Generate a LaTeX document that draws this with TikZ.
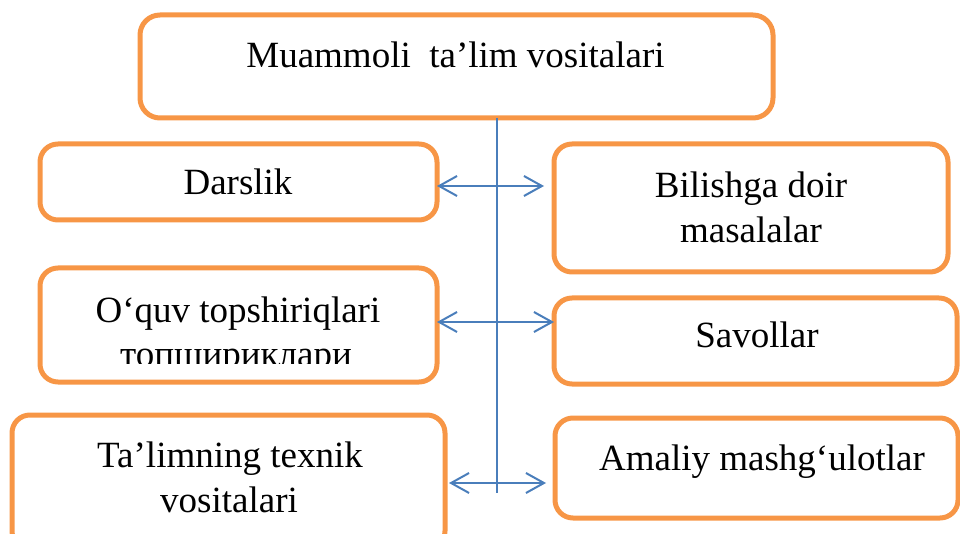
\documentclass[tikz,border=0pt]{standalone}
\usepackage{fontspec}
\setmainfont{Liberation Serif}
\usetikzlibrary{arrows.meta}
\definecolor{boxorange}{HTML}{F79646}
\definecolor{linkblue}{HTML}{4A7EBB}
\begin{document}
\begin{tikzpicture}[x=1pt,y=-1pt,
  box/.style={draw=boxorange,line width=5pt,rounded corners=18pt,inner sep=0pt,outer sep=0pt},
  lbl/.style={anchor=base,inner sep=0pt,font=\fontsize{37}{45}\selectfont},
  link/.style={draw=linkblue,line width=2pt},
  biarrow/.style={link,{Straight Barb[length=18pt,width=20pt]}-{Straight Barb[length=18pt,width=20pt]}}]
\useasboundingbox (0,0) rectangle (960,534);
\clip (0,0) rectangle (960,534);
% boxes
\node[box,rounded corners=20pt,minimum width=633pt,minimum height=103pt] (top) at (456.5,66.5) {};
\node[box,minimum width=397pt,minimum height=76pt] (darslik) at (238.5,182) {};
\node[box,minimum width=394pt,minimum height=128pt] (bilish) at (751,208) {};
\node[box,minimum width=397pt,minimum height=114pt] (oquv) at (238.5,325) {};
\node[box,minimum width=403pt,minimum height=86pt] (savol) at (755.5,341) {};
\node[box,minimum width=433pt,minimum height=134pt] (talim) at (228.5,482) {};
\node[box,minimum width=403pt,minimum height=100pt] (amaliy) at (756.5,468) {};
% texts
\node[lbl] (t1) at (455.5,68) {Muammoli\ \ ta’lim vositalari};
\node[lbl] (t2) at (238,195) {Darslik};
\node[lbl] (t3a) at (751,198) {Bilishga doir};
\node[lbl] (t3b) at (751,243) {masalalar};
\node[lbl] (t4a) at (238,322) {O‘quv topshiriqlari};
\begin{scope}
  \clip (40,268) rectangle (437,363);
  \node[lbl] (t4b) at (236,366) {топшириклари};
\end{scope}
\node[lbl] (t5) at (757,347) {Savollar};
\node[lbl] (t6a) at (230,467) {Ta’limning texnik};
\node[lbl] (t6b) at (229,512) {vositalari};
\node[lbl] (t7) at (762,470) {Amaliy mashg‘ulotlar};
% connectors
\coordinate (trunkend) at (497,493);
\draw[link] (top.south -| trunkend) -- (trunkend);
\draw[biarrow,shorten >=10pt] (darslik.east |- 0,186) -- (bilish.west |- 0,186);
\draw[biarrow] (oquv.east |- 0,322) -- (savol.west |- 0,322);
\draw[biarrow,shorten <=4pt,shorten >=9pt] (talim.east |- 0,483) -- (amaliy.west |- 0,483);
\end{tikzpicture}
\end{document}
